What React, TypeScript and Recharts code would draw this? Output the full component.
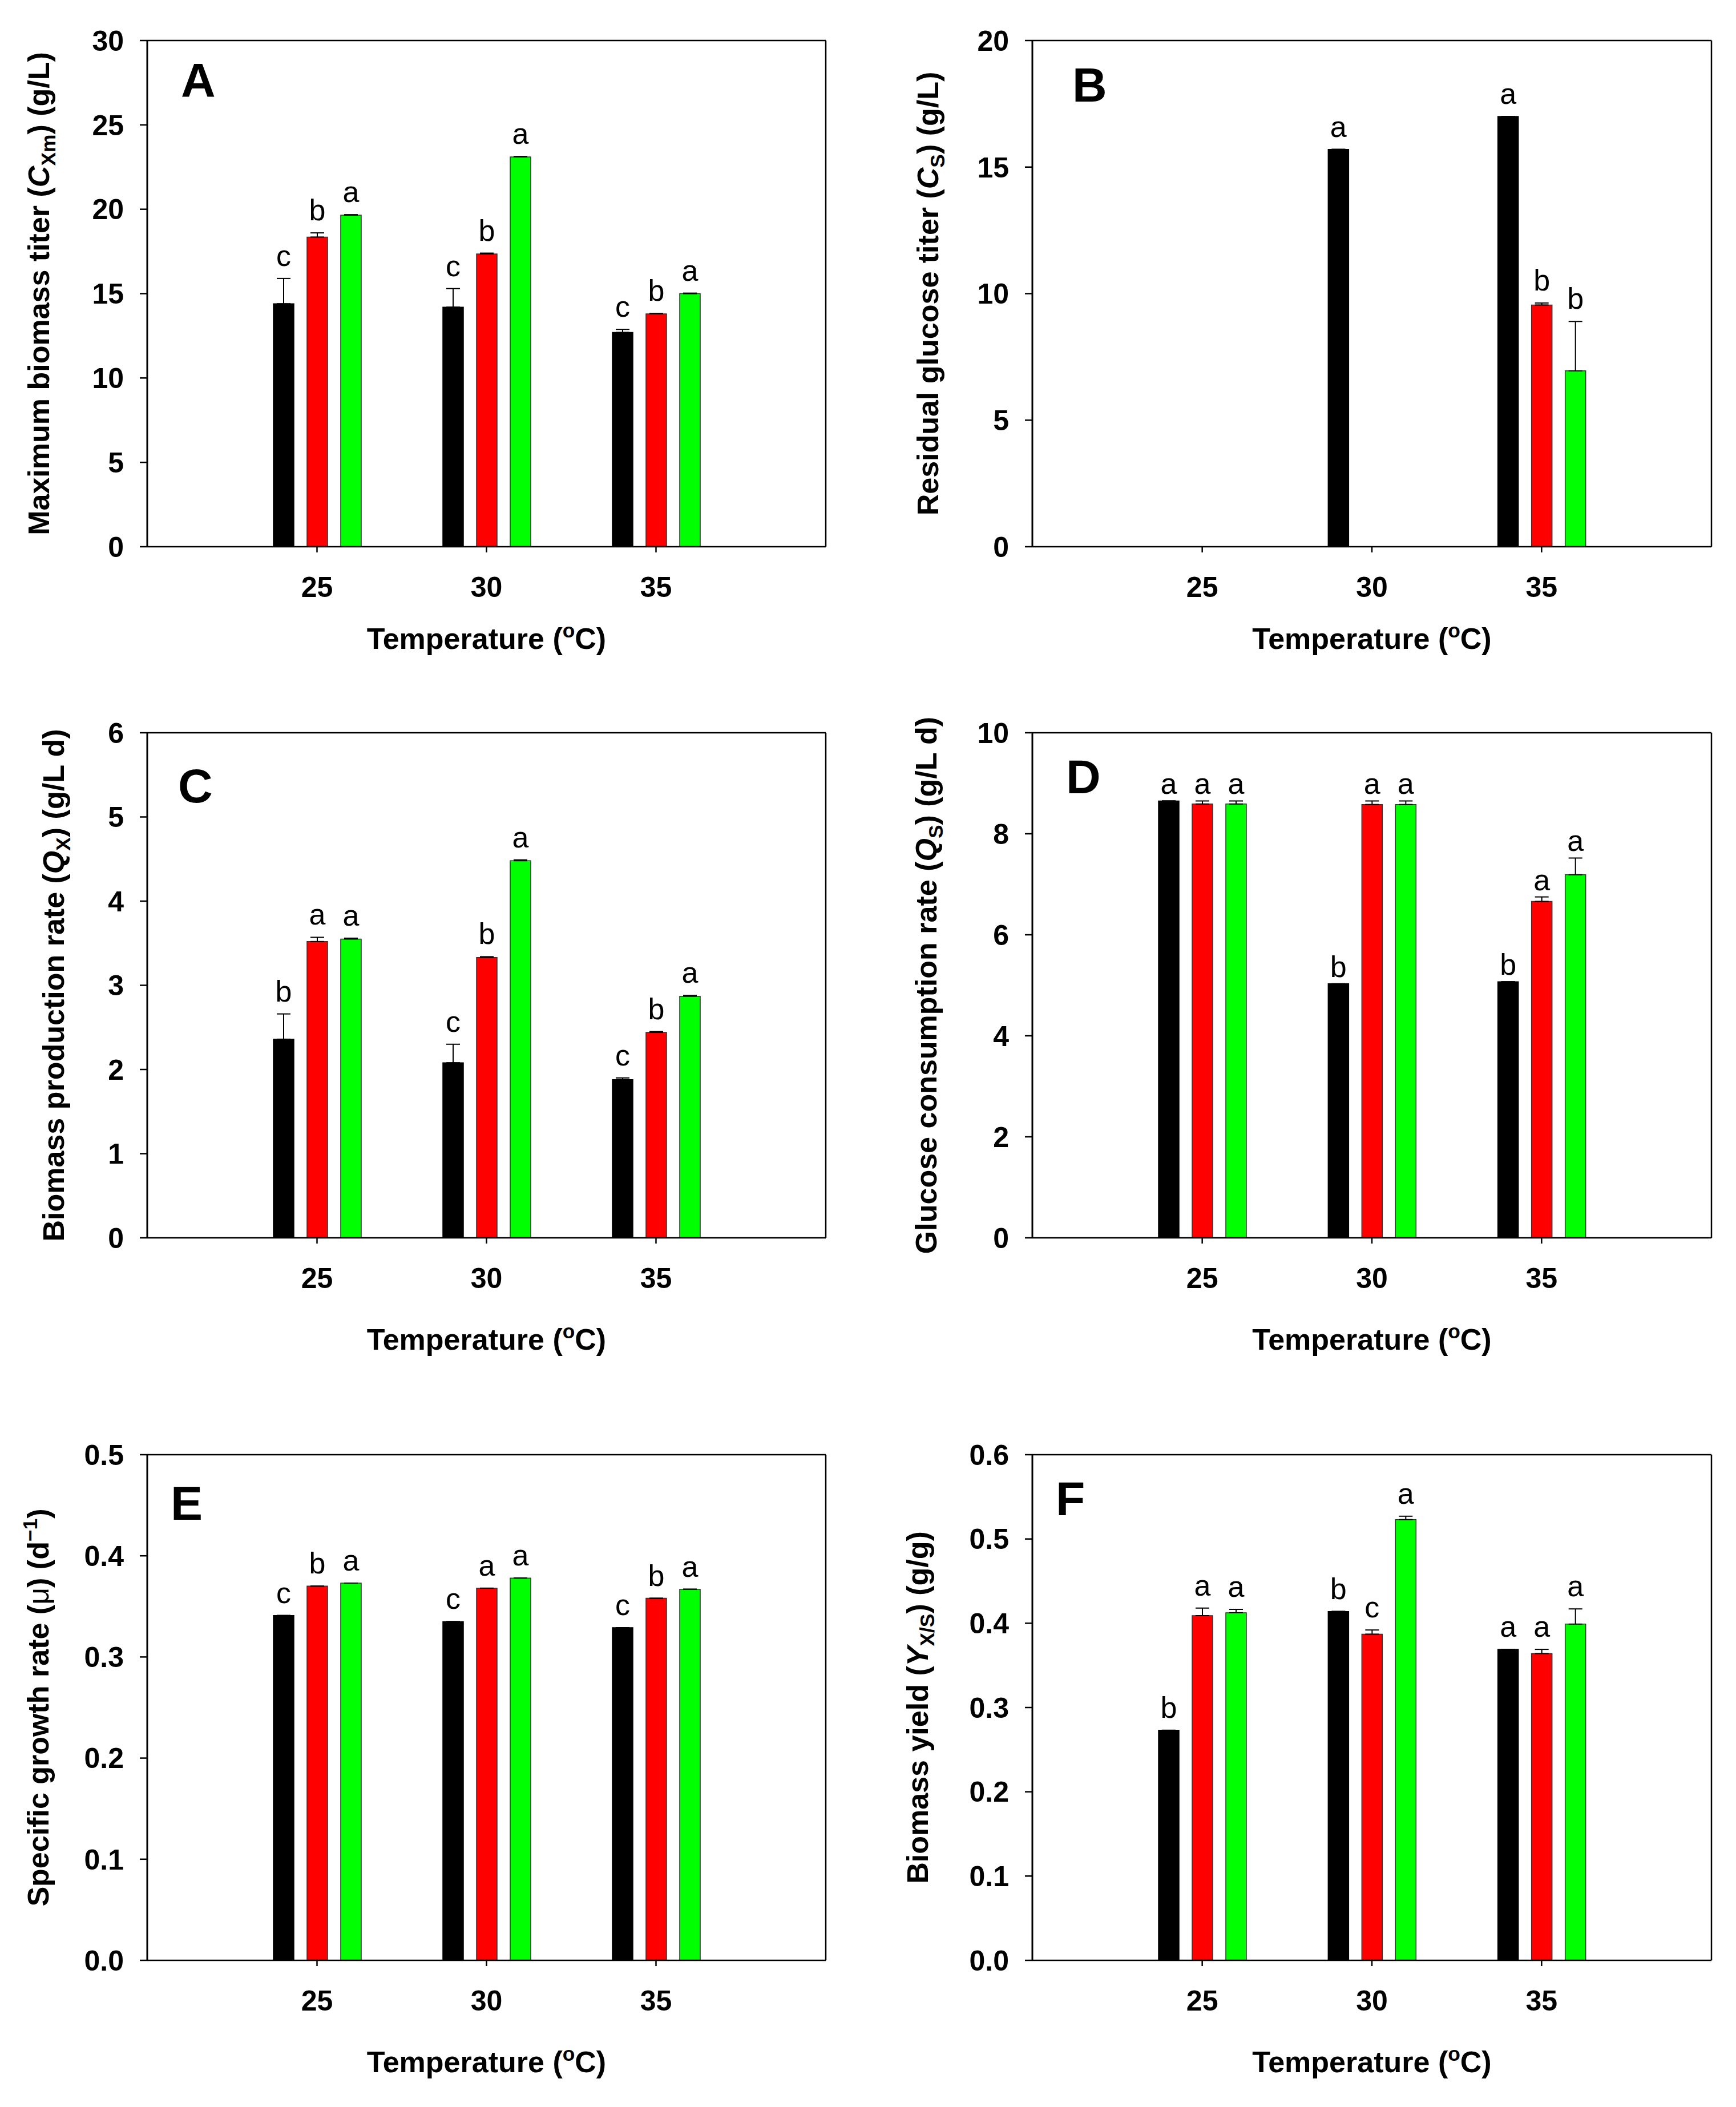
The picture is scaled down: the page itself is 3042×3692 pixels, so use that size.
import React from 'react';
import { BarChart, Bar, XAxis, YAxis, ErrorBar, LabelList } from 'recharts';

const FONT = '"Liberation Sans", Arial, Helvetica, sans-serif';

const temps = ['25', '30', '35'];

// A - maximum biomass titer (g/L)
const aBlack = [14.4, 14.2, 12.7];
const aRed = [18.35, 17.35, 13.8];
const aGreen = [19.65, 23.1, 15.0];
const aBlackErr = [1.5, 1.1, 0.18];
const aRedErr = [0.25, 0.05, 0.03];
const aGreenErr = [0.03, 0.03, 0.03];
const aBlackSig = ['c', 'c', 'c'];
const aRedSig = ['b', 'b', 'b'];
const aGreenSig = ['a', 'a', 'a'];
const aTicks = [0, 5, 10, 15, 20, 25, 30];

// B - residual glucose titer (g/L)
const bBlack = [0, 15.7, 17.0];
const bRed = [0, 0, 9.55];
const bGreen = [0, 0, 6.95];
const bBlackErr = [0, 0, 0];
const bRedErr = [0, 0, 0.08];
const bGreenErr = [0, 0, 1.95];
const bBlackSig = ['', 'a', 'a'];
const bRedSig = ['', '', 'b'];
const bGreenSig = ['', '', 'b'];
const bTicks = [0, 5, 10, 15, 20];

// C - biomass production rate (g/L d)
const cBlack = [2.36, 2.08, 1.88];
const cRed = [3.52, 3.33, 2.44];
const cGreen = [3.55, 4.48, 2.87];
const cBlackErr = [0.3, 0.22, 0.02];
const cRedErr = [0.05, 0.01, 0.01];
const cGreenErr = [0.01, 0.01, 0.01];
const cBlackSig = ['b', 'c', 'c'];
const cRedSig = ['a', 'b', 'b'];
const cGreenSig = ['a', 'a', 'a'];
const cTicks = [0, 1, 2, 3, 4, 5, 6];

// D - glucose consumption rate (g/L d)
const dBlack = [8.65, 5.03, 5.07];
const dRed = [8.59, 8.58, 6.66];
const dGreen = [8.59, 8.58, 7.19];
const dBlackErr = [0, 0, 0];
const dRedErr = [0.06, 0.07, 0.09];
const dGreenErr = [0.06, 0.07, 0.33];
const dBlackSig = ['a', 'b', 'b'];
const dRedSig = ['a', 'a', 'a'];
const dGreenSig = ['a', 'a', 'a'];
const dTicks = [0, 2, 4, 6, 8, 10];

// E - specific growth rate (1/d)
const eBlack = [0.341, 0.335, 0.329];
const eRed = [0.37, 0.368, 0.358];
const eGreen = [0.373, 0.378, 0.367];
const eBlackErr = [0, 0, 0];
const eRedErr = [0, 0, 0];
const eGreenErr = [0, 0, 0];
const eBlackSig = ['c', 'c', 'c'];
const eRedSig = ['b', 'a', 'b'];
const eGreenSig = ['a', 'a', 'a'];
const eTicks = [0, 0.1, 0.2, 0.3, 0.4, 0.5];

// F - biomass yield (g/g)
const fBlack = [0.273, 0.414, 0.369];
const fRed = [0.409, 0.387, 0.364];
const fGreen = [0.4125, 0.523, 0.399];
const fBlackErr = [0, 0, 0];
const fRedErr = [0.009, 0.005, 0.005];
const fGreenErr = [0.004, 0.004, 0.018];
const fBlackSig = ['b', 'b', 'a'];
const fRedSig = ['a', 'c', 'a'];
const fGreenSig = ['a', 'a', 'a'];
const fTicks = [0, 0.1, 0.2, 0.3, 0.4, 0.5, 0.6];

type Seg = { t: string; italic?: boolean; sub?: boolean; sup?: boolean; normal?: boolean };

const tempTitle: Seg[] = [{ t: 'Temperature (' }, { t: 'o', sup: true }, { t: 'C)' }];

function Segs({ segs, size }: { segs: Seg[]; size: number }) {
  let shift = 0;
  return (
    <>
      {segs.map((s, i) => {
        const target = s.sub ? size * 0.22 : s.sup ? -size * 0.38 : 0;
        const dy = target - shift;
        shift = target;
        return (
          <tspan
            key={i}
            dy={dy}
            fontSize={s.sub || s.sup ? size * 0.68 : size}
            fontStyle={s.italic ? 'italic' : undefined}
            fontWeight={s.normal ? 'normal' : undefined}
          >
            {s.t}
          </tspan>
        );
      })}
    </>
  );
}

const BLACK = '#000000';
const RED = '#ff0000';
const GREEN = '#00ff00';

// letter above each bar; the LabelList value is the row index
const sigContent = (vals: number[], errs: number[], sigs: string[], gap: number) => (p: any) => {
  const i = Number(p.value);
  if (!Number.isFinite(i) || !sigs[i] || !vals[i]) return null;
  const box = p.viewBox && p.viewBox.width != null ? p.viewBox : p;
  const h = Math.abs(box.height);
  const top = Math.min(box.y, box.y + box.height);
  const ppu = h / vals[i];
  const y = top - errs[i] * ppu - gap;
  return (
    <text
      key={`sig-${i}`}
      x={box.x + box.width / 2}
      y={y}
      textAnchor="middle"
      fontSize={52}
      fontFamily={FONT}
      fill="#000"
    >
      {sigs[i]}
    </text>
  );
};

interface PanelProps {
  col: number;
  row: number;
  black: number[];
  red: number[];
  green: number[];
  blackErr: number[];
  redErr: number[];
  greenErr: number[];
  blackSig: string[];
  redSig: string[];
  greenSig: string[];
  ticks: number[];
  decimals: number;
  title: Seg[];
  titleDx: number;
  tag: string;
  tagDx: number;
  tagDy: number;
  gap?: number;
}

const colLeft = [0, 1521];
const yAxisW = [258, 288];
const marginR = [74, 43];
const plotTop = [71, 1284, 2549];
const plotH = [887, 885, 886];
const xTitleDy = [179, 196, 196];
const TOP_M = 70;
const X_H = 230;

function Panel(props: PanelProps) {
  const { col, row, black, red, green, blackErr, redErr, greenErr, ticks, decimals, title, titleDx, tag, tagDx, tagDy } = props;
  const gap = props.gap ?? 22;
  const data = temps.map((t, i) => ({
    temp: t,
    idx: i,
    black: black[i],
    red: red[i],
    green: green[i],
    blackErr: [0, blackErr[i]],
    redErr: [0, redErr[i]],
    greenErr: [0, greenErr[i]],
  }));
  const width = 1521;
  const height = TOP_M + plotH[row] + X_H;
  const yw = yAxisW[col];
  const max = ticks[ticks.length - 1];
  const axisLine = { stroke: '#000', strokeWidth: 2.5 };

  const yTitle = (p: any) => {
    const vb = p.viewBox || { x: 0, y: TOP_M, width: yw, height: plotH[row] };
    const x = vb.x + vb.width + titleDx;
    const cy = vb.y + vb.height / 2;
    return (
      <text
        x={x}
        y={cy}
        transform={`rotate(-90 ${x} ${cy})`}
        textAnchor="middle"
        fontFamily={FONT}
        fontWeight="bold"
        fontSize={52}
        fill="#000"
      >
        <Segs segs={title} size={52} />
      </text>
    );
  };

  const xTitle = (p: any) => {
    const vb = p.viewBox || { x: yw, y: TOP_M + plotH[row], width: width - yw - marginR[col], height: X_H };
    const cx = vb.x + vb.width / 2;
    const y = vb.y + xTitleDy[row];
    return (
      <text x={cx} y={y} textAnchor="middle" fontFamily={FONT} fontWeight="bold" fontSize={52} fill="#000">
        <Segs segs={tempTitle} size={52} />
      </text>
    );
  };

  const tagLabel = (p: any) => {
    const vb = p.viewBox || { x: yw, y: TOP_M - 1, width: 0, height: 1 };
    return (
      <text
        x={vb.x + tagDx}
        y={vb.y + vb.height + tagDy}
        fontFamily={FONT}
        fontWeight="bold"
        fontSize={84}
        fill="#000"
      >
        {tag}
      </text>
    );
  };

  return (
    <div style={{ position: 'absolute', left: colLeft[col], top: plotTop[row] - TOP_M, width, height }}>
      <BarChart
        width={width}
        height={height}
        data={data}
        margin={{ top: TOP_M - 1, right: marginR[col] - 1, bottom: 0, left: 0 }}
        barSize={36}
        barGap={23}
      >
        <XAxis
          dataKey="temp"
          height={X_H}
          padding={{ left: 149, right: 149 }}
          interval={0}
          tickSize={10}
          tickMargin={42}
          axisLine={axisLine}
          tickLine={{ stroke: '#000', strokeWidth: 2.5 }}
          tick={{ fontSize: 50, fontWeight: 'bold', fill: '#000', fontFamily: FONT }}
          label={xTitle}
        />
        <XAxis
          xAxisId="top"
          orientation="top"
          dataKey="temp"
          height={1}
          tick={false}
          tickLine={false}
          axisLine={axisLine}
          label={tagLabel}
        />
        <YAxis
          width={yw}
          domain={[0, max]}
          ticks={ticks}
          interval={0}
          allowDataOverflow
          tickSize={13}
          tickMargin={28}
          tickFormatter={(v: number) => v.toFixed(decimals)}
          axisLine={{ stroke: '#000', strokeWidth: 3 }}
          tickLine={{ stroke: '#000', strokeWidth: 2.5 }}
          tick={{ fontSize: 50, fontWeight: 'bold', fill: '#000', fontFamily: FONT }}
          label={yTitle}
        />
        <YAxis
          yAxisId="right"
          orientation="right"
          width={1}
          domain={[0, 1]}
          tick={false}
          tickLine={false}
          axisLine={axisLine}
        />
        <Bar dataKey="black" fill={BLACK} stroke="#000" strokeWidth={1.5} isAnimationActive={false}>
          <ErrorBar dataKey="blackErr" width={12} stroke="#000" strokeWidth={2} direction="y" isAnimationActive={false} />
          <LabelList dataKey="idx" content={sigContent(black, blackErr, props.blackSig, gap)} />
        </Bar>
        <Bar dataKey="red" fill={RED} stroke="#333" strokeWidth={1.5} isAnimationActive={false}>
          <ErrorBar dataKey="redErr" width={12} stroke="#000" strokeWidth={2} direction="y" isAnimationActive={false} />
          <LabelList dataKey="idx" content={sigContent(red, redErr, props.redSig, gap)} />
        </Bar>
        <Bar dataKey="green" fill={GREEN} stroke="#333" strokeWidth={1.5} isAnimationActive={false}>
          <ErrorBar dataKey="greenErr" width={12} stroke="#000" strokeWidth={2} direction="y" isAnimationActive={false} />
          <LabelList dataKey="idx" content={sigContent(green, greenErr, props.greenSig, gap)} />
        </Bar>
      </BarChart>
    </div>
  );
}

export default function App() {
  return (
    <div style={{ position: 'absolute', left: 0, top: 0, width: 3042, height: 3692, background: '#fff' }}>
      <Panel
        col={0} row={0}
        black={aBlack} red={aRed} green={aGreen}
        blackErr={aBlackErr} redErr={aRedErr} greenErr={aGreenErr}
        blackSig={aBlackSig} redSig={aRedSig} greenSig={aGreenSig}
        ticks={aTicks} decimals={0}
        title={[{ t: 'Maximum biomass titer (' }, { t: 'C', italic: true }, { t: 'Xm', sub: true }, { t: ') (g/L)' }]}
        titleDx={-172}
        tag="A" tagDx={59} tagDy={99}
      />
      <Panel
        col={1} row={0}
        black={bBlack} red={bRed} green={bGreen}
        blackErr={bBlackErr} redErr={bRedErr} greenErr={bGreenErr}
        blackSig={bBlackSig} redSig={bRedSig} greenSig={bGreenSig}
        ticks={bTicks} decimals={0}
        title={[{ t: 'Residual glucose titer (' }, { t: 'C', italic: true }, { t: 'S', sub: true }, { t: ') (g/L)' }]}
        titleDx={-165}
        tag="B" tagDx={70} tagDy={107}
      />
      <Panel
        col={0} row={1}
        black={cBlack} red={cRed} green={cGreen}
        blackErr={cBlackErr} redErr={cRedErr} greenErr={cGreenErr}
        blackSig={cBlackSig} redSig={cRedSig} greenSig={cGreenSig}
        ticks={cTicks} decimals={0}
        title={[{ t: 'Biomass production rate (' }, { t: 'Q', italic: true }, { t: 'X', sub: true }, { t: ') (g/L d)' }]}
        titleDx={-146}
        tag="C" tagDx={54} tagDy={122}
      />
      <Panel
        col={1} row={1}
        black={dBlack} red={dRed} green={dGreen}
        blackErr={dBlackErr} redErr={dRedErr} greenErr={dGreenErr}
        blackSig={dBlackSig} redSig={dRedSig} greenSig={dGreenSig}
        ticks={dTicks} decimals={0}
        title={[{ t: 'Glucose consumption rate (' }, { t: 'Q', italic: true }, { t: 'S', sub: true }, { t: ') (g/L d)' }]}
        titleDx={-168}
        tag="D" tagDx={59} tagDy={106}
        gap={12}
      />
      <Panel
        col={0} row={2}
        black={eBlack} red={eRed} green={eGreen}
        blackErr={eBlackErr} redErr={eRedErr} greenErr={eGreenErr}
        blackSig={eBlackSig} redSig={eRedSig} greenSig={eGreenSig}
        ticks={eTicks} decimals={1}
        title={[{ t: 'Specific growth rate (' }, { t: 'μ', normal: true }, { t: ') (d' }, { t: '−1', sup: true }, { t: ')' }]}
        titleDx={-173}
        tag="E" tagDx={41} tagDy={114}
      />
      <Panel
        col={1} row={2}
        black={fBlack} red={fRed} green={fGreen}
        blackErr={fBlackErr} redErr={fRedErr} greenErr={fGreenErr}
        blackSig={fBlackSig} redSig={fRedSig} greenSig={fGreenSig}
        ticks={fTicks} decimals={1}
        title={[{ t: 'Biomass yield (' }, { t: 'Y', italic: true }, { t: 'X/S', sub: true }, { t: ') (g/g)' }]}
        titleDx={-183}
        tag="F" tagDx={41} tagDy={106}
      />
    </div>
  );
}
